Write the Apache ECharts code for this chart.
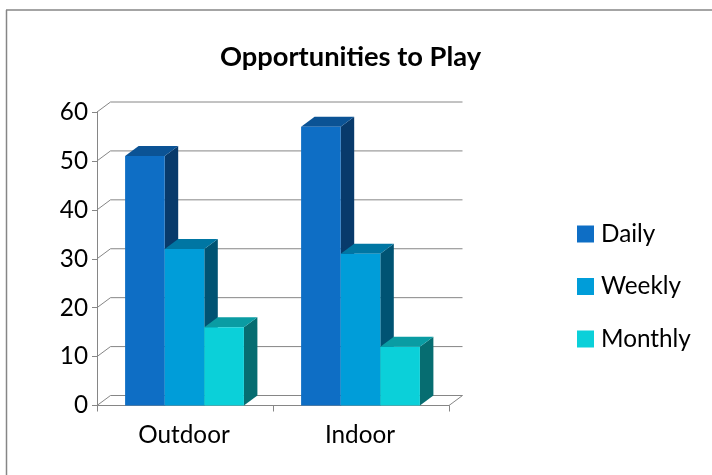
<!DOCTYPE html>
<html>
<head>
<meta charset="utf-8">
<style>html,body{margin:0;padding:0;background:#fff}#chart{width:712px;height:475px}</style>
<script src="https://cdn.jsdelivr.net/npm/echarts@6/dist/echarts.min.js"></script>
</head>
<body>
<div id="chart"></div>
<script>
const categories = ['Outdoor', 'Indoor'];
const daily = [51, 57];
const weekly = [32, 31];
const monthly = [16, 12];
const yTicks = [0, 10, 20, 30, 40, 50, 60];

const FONT = 'Lato';
const DEPTH_X = 13.5;
const DEPTH_Y = 10;
const GROUP_SHARE = 0.675;
const AXIS_GREY = '#868686';

const palette = [
  { name: 'Daily',   values: daily,   front: '#0E6EC5', side: '#083A6B', top: '#0B5395' },
  { name: 'Weekly',  values: weekly,  front: '#009DD9', side: '#005373', top: '#0076A3' },
  { name: 'Monthly', values: monthly, front: '#0BD0D9', side: '#066D71', top: '#0A9CA3' }
];

// Extruded column: front face, right side and top, offset up and to the right.
function columnItem(index, tone) {
  return function (params, api) {
    const base = api.coord([api.value(0), 0]);
    const head = api.coord([api.value(0), api.value(1)]);
    const groupWidth = api.size([1, 0])[0] * GROUP_SHARE;
    const w = groupWidth / palette.length;
    const x0 = base[0] - groupWidth / 2 + index * w - 0.5;
    const x1 = x0 + w;
    const y0 = base[1];
    const y1 = head[1];
    return {
      type: 'group',
      children: [
        { type: 'polygon', shape: { points: [[x1, y1], [x1 + DEPTH_X, y1 - DEPTH_Y], [x1 + DEPTH_X, y0 - DEPTH_Y], [x1, y0]] }, style: { fill: tone.side } },
        { type: 'polygon', shape: { points: [[x0, y1], [x0 + DEPTH_X, y1 - DEPTH_Y], [x1 + DEPTH_X, y1 - DEPTH_Y], [x1, y1]] }, style: { fill: tone.top } },
        { type: 'rect', shape: { x: x0, y: y1, width: w, height: y0 - y1 }, style: { fill: tone.front } }
      ]
    };
  };
}

// Back wall gridline for one value, with the slanted connector to the value axis.
function wallLine(params, api) {
  const p = api.coord([0, api.value(0)]);
  const rect = params.coordSys;
  const line = { stroke: AXIS_GREY, lineWidth: 1 };
  return {
    type: 'group',
    silent: true,
    children: [
      { type: 'line', shape: { x1: rect.x, y1: p[1], x2: rect.x + DEPTH_X, y2: p[1] - DEPTH_Y }, style: line },
      { type: 'line', shape: { x1: rect.x + DEPTH_X, y1: p[1] - DEPTH_Y, x2: rect.x + rect.width + DEPTH_X, y2: p[1] - DEPTH_Y }, style: line }
    ]
  };
}

// Floor edge on the far right of the plot.
function floorEdge(params, api) {
  const rect = params.coordSys;
  const p = api.coord([0, 0]);
  return {
    type: 'line',
    silent: true,
    shape: { x1: rect.x + rect.width, y1: p[1], x2: rect.x + rect.width + DEPTH_X, y2: p[1] - DEPTH_Y },
    style: { stroke: AXIS_GREY, lineWidth: 1 }
  };
}

const chart = echarts.init(document.getElementById('chart'), null, { renderer: 'canvas' });

chart.setOption({
  animation: false,
  backgroundColor: '#fff',
  // Frame runs along the top and left only, out to the page edges.
  graphic: [
    { type: 'line', silent: true, z: -10, shape: { x1: 6, y1: 10, x2: 712, y2: 10 }, style: { stroke: AXIS_GREY, lineWidth: 1.5 } },
    { type: 'line', silent: true, z: -10, shape: { x1: 6.5, y1: 10, x2: 6.5, y2: 475 }, style: { stroke: AXIS_GREY, lineWidth: 1.5 } }
  ],
  title: {
    text: 'Opportunities to Play',
    left: 345.5,
    top: 39,
    textAlign: 'center',
    textStyle: { fontFamily: FONT, fontSize: 27.3, fontWeight: 'bold', color: '#000' }
  },
  legend: {
    orient: 'vertical',
    left: 572,
    top: 217,
    itemWidth: 17,
    itemHeight: 17,
    itemGap: 28.5,
    icon: 'rect',
    selectedMode: false,
    data: palette.map(p => p.name),
    textStyle: { fontFamily: FONT, fontSize: 24.3, color: '#000', padding: [0, 0, 0, 2], height: 23, lineHeight: 23 }
  },
  grid: { left: 97, right: 263, top: 112, bottom: 69.5 },
  xAxis: {
    type: 'category',
    data: categories,
    axisLine: { lineStyle: { color: AXIS_GREY, width: 1 } },
    axisTick: { show: true, alignWithLabel: false, length: 6, lineStyle: { color: AXIS_GREY } },
    axisLabel: { fontFamily: FONT, fontSize: 24.3, color: '#000', margin: 18, padding: [0, 2, 0, 0] },
    splitLine: { show: false }
  },
  yAxis: {
    type: 'value',
    min: 0,
    max: 60,
    interval: 10,
    axisLine: { show: true, lineStyle: { color: AXIS_GREY, width: 1 } },
    axisTick: { show: true, length: 5, lineStyle: { color: AXIS_GREY } },
    axisLabel: { fontFamily: FONT, fontSize: 24.3, color: '#000', margin: 9 },
    splitLine: { show: false }
  },
  series: [
    {
      type: 'custom',
      name: 'wall',
      silent: true,
      z: 1,
      renderItem: wallLine,
      encode: { y: 0 },
      data: yTicks.map(v => [v]),
      clip: false
    },
    {
      type: 'custom',
      name: 'floor',
      silent: true,
      z: 1,
      renderItem: floorEdge,
      data: [[0]],
      clip: false
    }
  ].concat(palette.map((tone, i) => ({
    type: 'custom',
    name: tone.name,
    z: 3,
    itemStyle: { color: tone.front },
    renderItem: columnItem(i, tone),
    encode: { x: 0, y: 1 },
    data: categories.map((c, k) => [k, tone.values[k]]),
    clip: false
  })))
});
</script>
</body>
</html>
